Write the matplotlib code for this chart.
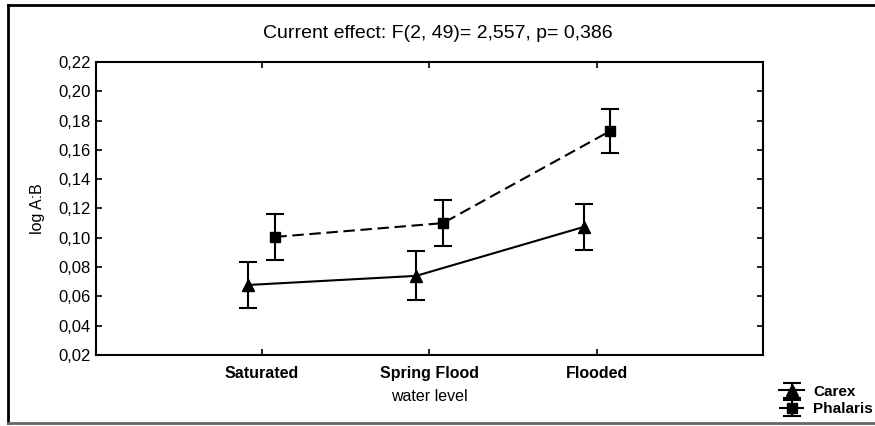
import matplotlib.pyplot as plt
from matplotlib.lines import Line2D
from matplotlib.ticker import FuncFormatter
import numpy as np

plt.rcParams['font.family'] = ['Liberation Sans', 'DejaVu Sans']

levels = ['Saturated', 'Spring Flood', 'Flooded']
carex_mean = [0.0678, 0.0740, 0.1074]
carex_err = [0.0160, 0.0167, 0.0157]
phalaris_mean = [0.1006, 0.1100, 0.1730]
phalaris_err = [0.0157, 0.0155, 0.0152]

x = np.arange(1, len(levels) + 1)

fig = plt.figure(figsize=(8.75, 4.26), dpi=100)
ax = fig.add_axes([0.1097, 0.1667, 0.7623, 0.6878])

# carex, solid line with triangles
ax.errorbar(x - 0.08, carex_mean, yerr=carex_err, color='black', lw=1.5,
            marker='^', ms=8.5, capsize=6.5, capthick=1.5, elinewidth=1.5,
            label='Carex')
# phalaris, dashed line with squares
ax.errorbar(x + 0.08, phalaris_mean, yerr=phalaris_err, color='black',
            lw=1.5, ls=(0, (5.5, 2.7)), marker='s', ms=7, capsize=6.5,
            capthick=1.5, elinewidth=1.5, label='Phalaris')

ax.set_xlim(0.01, 3.99)
ax.set_ylim(0.02, 0.22)
ax.set_yticks(np.arange(0.02, 0.2201, 0.02))
ax.yaxis.set_major_formatter(FuncFormatter(lambda v, p: ('%.2f' % v).replace('.', ',')))
ax.set_xticks(x)
ax.set_xticklabels(levels, fontweight='bold', fontsize=11.5)
ax.tick_params(axis='both', direction='in', length=4, width=1.2,
               top=True, right=True, labelsize=12, pad=4)
ax.tick_params(axis='x', pad=8, labelsize=11.5)
for s in ax.spines.values():
    s.set_linewidth(1.5)

ax.set_xlabel('water level', fontsize=11.5, labelpad=6)
ax.set_ylabel('log A:B', fontsize=11.5, labelpad=9)
fig.text(0.5, 0.922, 'Current effect: F(2, 49)= 2,557, p= 0,386',
         ha='center', va='center', fontsize=14)

# legend outside, bottom right
hs, ls = ax.get_legend_handles_labels()
fig.legend(hs, ls, loc='lower left', bbox_to_anchor=(0.889, 0.019),
           frameon=False, prop={'weight': 'bold', 'size': 11},
           handlelength=1.6, handletextpad=0.6, labelspacing=0.25,
           borderpad=0.1, borderaxespad=0)

# outer frame
fig.add_artist(Line2D([0.0097, 0.0097], [0.007, 0.988], color='black', lw=2,
                      transform=fig.transFigure))
fig.add_artist(Line2D([0.0097, 1.0], [0.988, 0.988], color='black', lw=2,
                      transform=fig.transFigure))
fig.add_artist(Line2D([0.0097, 1.0], [0.007, 0.007], color='#666666', lw=2,
                      transform=fig.transFigure))

fig.savefig('out.png', dpi=100)
